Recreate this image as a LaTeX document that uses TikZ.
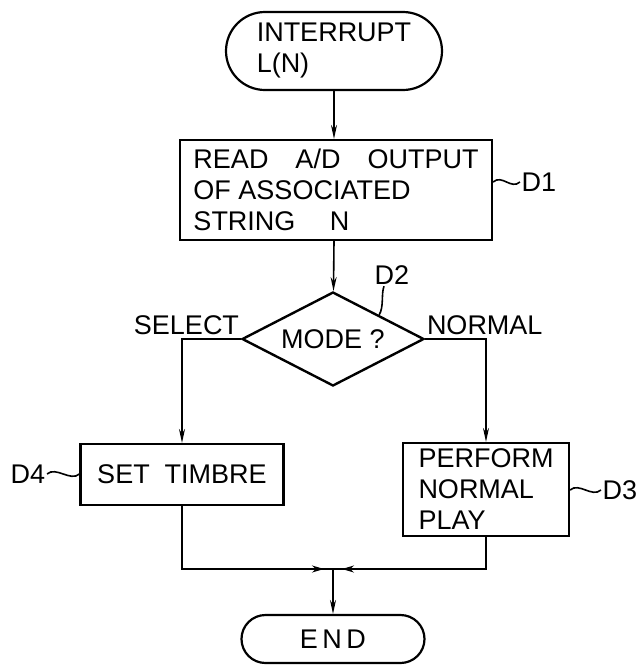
\documentclass[tikz,border=0pt]{standalone}
\usepackage{fontspec}
\setmainfont{Liberation Sans}
\usetikzlibrary{arrows.meta}
\usetikzlibrary{decorations.markings}
\usetikzlibrary{shapes.geometric}
\usetikzlibrary{shapes.misc}
\usetikzlibrary{positioning}

\begin{document}
\begin{tikzpicture}[x=1pt,y=-1pt,
    font=\fontsize{27}{31}\selectfont,
    line width=1.6pt,
    term/.style={draw,rounded rectangle,line width=2.2pt,align=left,inner sep=0pt},
    proc/.style={draw,rectangle,line width=2.2pt,align=left,inner sep=0pt},
    decision/.style={draw,diamond,line width=2.4pt,inner sep=0pt,shape aspect=2},
    tag/.style={inner sep=1pt},
    flow/.style={-{Stealth[length=14pt,width=6pt]}},
    midflow/.style={postaction={decorate},decoration={markings,
        mark=at position -9pt with {\arrow{Stealth[length=12pt,width=7pt]}}}}]
    \useasboundingbox (0,0) rectangle (639,665);

    \node[term, minimum width=216, minimum height=78] (start) at (334,51) {INTERRUPT\\L(N)};
    \node[proc, minimum width=312, minimum height=100] (read) at (336,190)
        {READ\quad A/D\quad OUTPUT\\OF ASSOCIATED\\STRING\quad\ N};
    \node[decision, minimum width=182, minimum height=94] (mode) at (333,339) {MODE ?};
    \node[proc, minimum width=203, minimum height=61] (timbre) at (182,474.5) {SET~~TIMBRE};
    \node[proc, minimum width=166, minimum height=93] (play) at (486,489.5) {PERFORM\\NORMAL\\PLAY};
    \node[term, minimum width=183, minimum height=48] (end) at (333,639) {E\,N\,D};
    \coordinate (join) at (333,569);

    \node[tag, anchor=base east] (sel) at ([yshift=5pt]mode.west) {SELECT};
    \node[tag, anchor=base west] (nor) at ([yshift=5pt]mode.east) {NORMAL};
    \node[tag] (d1) at (539,182) {D1};
    \node[tag] (d2) at (392,275) {D2};
    \node[tag] (d3) at (620,490) {D3};
    \node[tag] (d4) at (28,474) {D4};

    \draw[flow] (start) -- (start |- read.north);
    \draw[flow] (start |- read.south) -- (mode);
    \draw[flow] (mode.west) -| (timbre.north);
    \draw[flow] (mode.east) -| (play.north);
    \draw[midflow] (timbre) |- (join);
    \draw[midflow] (play) |- (join);
    \draw[flow] (join) -- (end);

    \draw (read.east |- d1) .. controls +(9,-8) and +(-9,8) .. (d1.west);
    \draw (play.east |- d3) .. controls +(9,-8) and +(-9,8) .. (d3.west);
    \draw (d4.east) .. controls +(9,-8) and +(-9,8) .. (timbre.west |- d4);
    \draw (mode.north east) .. controls +(5,-8) and +(-3,8) .. ([xshift=-8pt]d2.south);

\end{tikzpicture}
\end{document}
